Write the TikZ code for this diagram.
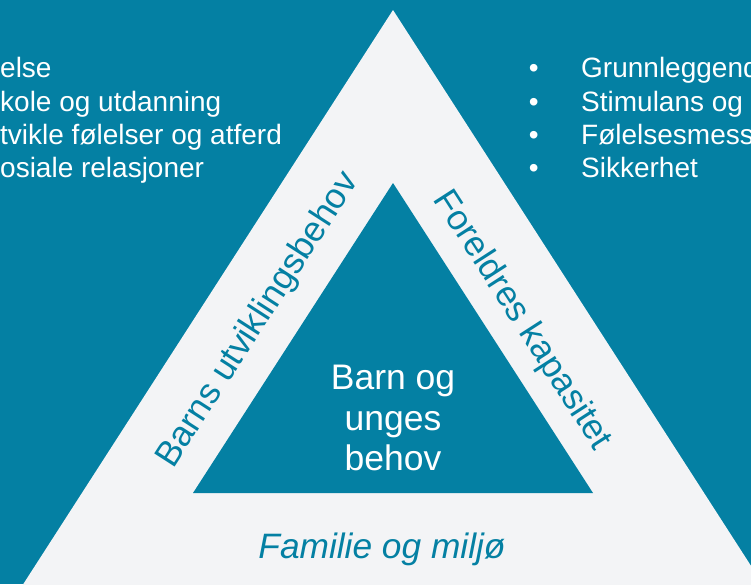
\documentclass[tikz,border=0pt]{standalone}
\usepackage{fontspec}
\setmainfont{Liberation Sans}
\definecolor{teal1}{HTML}{0480A3}
\definecolor{light1}{HTML}{F3F4F6}
\begin{document}
\begin{tikzpicture}[x=1pt,y=-1pt,
  sidelbl/.style={inner sep=0pt, anchor=base, text=teal1, font=\fontsize{35.3}{40}\selectfont},
  centerlbl/.style={inner sep=0pt, anchor=base, text=white, font=\fontsize{35.5}{40}\selectfont},
  listtxt/.style={inner sep=0pt, anchor=base west, text=white, font=\fontsize{28}{33}\selectfont},
  bullet/.style={inner sep=0pt, anchor=base, text=white, font=\fontsize{28}{33}\selectfont}]
\useasboundingbox (0,0) rectangle (751,584);
\clip (0,0) rectangle (751,584);
\fill[teal1] (0,0) rectangle (751,584);
\fill[light1] (393,10) -- (837.4,700) -- (-51.4,700) -- cycle;
\fill[teal1] (393,183) -- (593,493) -- (193,493) -- cycle;

\node[sidelbl, rotate=57.2] (barns) at (266,325) {Barns utviklingsbehov};
\node[sidelbl, rotate=-57.2] (foreldre) at (514,325.5) {Foreldres kapasitet};
\node[sidelbl, font=\fontsize{35.3}{40}\selectfont\itshape] (familie) at (382,558.3) {Familie og miljø};

\node[centerlbl] (c1) at (393,389) {Barn og};
\node[centerlbl] (c2) at (393,430) {unges};
\node[centerlbl] (c3) at (393,470) {behov};

\node[listtxt] (l1) at (0,77.7) {else};
\node[listtxt] (l2) at (0,111) {kole og utdanning};
\node[listtxt] (l3) at (0,144.3) {tvikle følelser og atferd};
\node[listtxt] (l4) at (0,177.7) {osiale relasjoner};

\node[bullet] (b1) at (533.8,77.7) {•};
\node[bullet] (b2) at (533.8,111) {•};
\node[bullet] (b3) at (533.8,144.3) {•};
\node[bullet] (b4) at (533.8,177.7) {•};
\node[listtxt] (r1) at (581,77.7) {Grunnleggend};
\node[listtxt] (r2) at (581,111) {Stimulans og};
\node[listtxt] (r3) at (581,144.3) {Følelsesmess};
\node[listtxt] (r4) at (581,177.7) {Sikkerhet};
\end{tikzpicture}
\end{document}
